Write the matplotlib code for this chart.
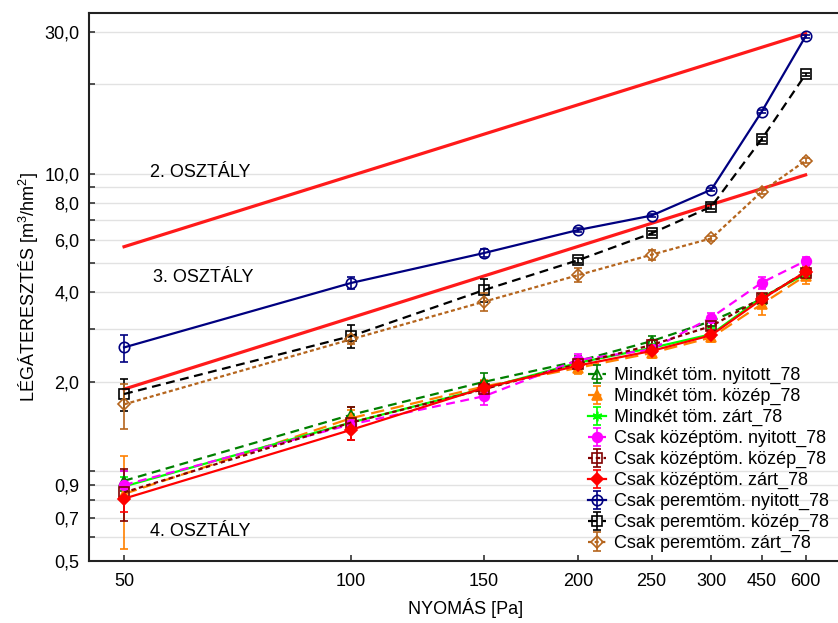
import matplotlib
matplotlib.use("Agg")
import matplotlib.pyplot as plt
import numpy as np
from matplotlib.ticker import FixedLocator, NullFormatter

plt.rcParams['font.family'] = ['Liberation Sans', 'DejaVu Sans']
plt.rcParams['mathtext.default'] = 'regular'

# pressure positions on the (log) axis and their printed labels
x_pos = [50, 100, 150, 200, 250, 300, 350, 400]
x_labels = ['50', '100', '150', '200', '250', '300', '450', '600']

# class boundary lines (start at 50 Pa, end at 600 Pa)
class2_line = [5.69, 29.6]
class3_line = [1.89, 9.92]

series_names = [
    'Mindkét töm. nyitott_78',
    'Mindkét töm. közép_78',
    'Mindkét töm. zárt_78',
    'Csak középtöm. nyitott_78',
    'Csak középtöm. közép_78',
    'Csak középtöm. zárt_78',
    'Csak peremtöm. nyitott_78',
    'Csak peremtöm. közép_78',
    'Csak peremtöm. zárt_78',
]

mindket_nyitott = [0.93, 1.55, 2.00, 2.35, 2.74, 3.20, 3.79, 4.70]
mindket_kozep   = [0.84, 1.51, 1.93, 2.23, 2.50, 2.82, 3.65, 4.55]
mindket_zart    = [0.89, 1.46, 1.90, 2.32, 2.60, 2.89, 3.84, 4.61]
kozep_nyitott   = [0.90, 1.44, 1.79, 2.37, 2.57, 3.29, 4.31, 5.10]
kozep_kozep     = [0.85, 1.46, 1.89, 2.30, 2.66, 3.08, 3.82, 4.66]
kozep_zart      = [0.81, 1.38, 1.91, 2.27, 2.54, 2.87, 3.79, 4.69]
perem_nyitott   = [2.61, 4.30, 5.42, 6.48, 7.24, 8.85, 16.2, 29.0]
perem_kozep     = [1.82, 2.85, 4.07, 5.13, 6.31, 7.76, 13.1, 21.6]
perem_zart      = [1.68, 2.78, 3.72, 4.57, 5.35, 6.07, 8.72, 11.08]

err_mindket_nyitott = [0.07, 0.10, 0.15, 0.10, 0.12, 0.12, 0.10, 0.15]
err_mindket_kozep   = [0.29, 0.10, 0.10, 0.10, 0.10, 0.10, 0.30, 0.30]
err_mindket_zart    = [0.07, 0.08, 0.08, 0.08, 0.08, 0.15, 0.10, 0.10]
err_kozep_nyitott   = [0.10, 0.08, 0.12, 0.12, 0.10, 0.12, 0.20, 0.15]
err_kozep_kozep     = [0.17, 0.18, 0.10, 0.10, 0.10, 0.10, 0.10, 0.12]
err_kozep_zart      = [0.08, 0.10, 0.10, 0.08, 0.08, 0.10, 0.10, 0.10]
err_perem_nyitott   = [0.27, 0.20, 0.15, 0.10, 0.10, 0.10, 0.20, 0.30]
err_perem_kozep     = [0.22, 0.25, 0.35, 0.10, 0.10, 0.15, 0.20, 0.30]
err_perem_zart      = [0.29, 0.10, 0.25, 0.25, 0.20, 0.10, 0.15, 0.20]

values = [mindket_nyitott, mindket_kozep, mindket_zart, kozep_nyitott,
          kozep_kozep, kozep_zart, perem_nyitott, perem_kozep, perem_zart]
errors = [err_mindket_nyitott, err_mindket_kozep, err_mindket_zart,
          err_kozep_nyitott, err_kozep_kozep, err_kozep_zart,
          err_perem_nyitott, err_perem_kozep, err_perem_zart]

styles = [
    dict(color='#008000', ls=(0, (4, 2.5)), marker='^', mfc='none', ms=6.5),
    dict(color='#FF8000', ls=(0, (6, 3)), marker='^', mfc='#FF8000', ms=6.5),
    dict(color='#00FF00', ls='-', marker=(6, 2, 0), mfc='#00FF00', ms=7),
    dict(color='#FF00FF', ls=(0, (4, 2.5)), marker='o', mfc='#FF00FF', ms=7),
    dict(color='#800000', ls=(0, (2, 1.5)), marker='s', mfc='none', ms=7),
    dict(color='#FF0000', ls='-', marker='D', mfc='#FF0000', ms=6.5),
    dict(color='#000080', ls='-', marker='o', mfc='none', ms=7.5),
    dict(color='#000000', ls=(0, (4, 2.5)), marker='s', mfc='none', ms=7),
    dict(color='#B5651D', ls=(0, (1.8, 1.2)), marker='D', mfc='none', ms=6),
]

fig = plt.figure(figsize=(8.38, 6.23), dpi=100)
ax = fig.add_axes([89 / 838, 1 - 561 / 623, (842 - 89) / 838, (561 - 12.7) / 623])
ax.set_xscale('log')
ax.set_yscale('log')

ax.plot([x_pos[0], x_pos[-1]], class2_line, color='#FF1A1A', lw=2.3, zorder=3)
ax.plot([x_pos[0], x_pos[-1]], class3_line, color='#FF1A1A', lw=2.3, zorder=3)

for name, vals, errs, st in zip(series_names, values, errors, styles):
    ax.errorbar(x_pos, vals, yerr=errs, color=st['color'], ls=st['ls'], lw=1.6,
                marker=st['marker'], mfc=st['mfc'], mec=st['color'], mew=1.2,
                ms=st['ms'], capsize=3, elinewidth=1.2, capthick=1.2, label=name,
                zorder=4)

ax.set_xlim(44.93, 447)
ax.set_ylim(0.5, 34.8)

ax.xaxis.set_major_locator(FixedLocator(x_pos))
ax.set_xticklabels(x_labels)
ax.xaxis.set_minor_locator(FixedLocator([]))

y_major = [0.5, 0.7, 0.9, 2, 4, 6, 8, 10, 30]
y_major_labels = ['0,5', '0,7', '0,9', '2,0', '4,0', '6,0', '8,0', '10,0', '30,0']
y_minor = [0.6, 0.8, 1.0, 3, 5, 7, 9, 20]
ax.yaxis.set_major_locator(FixedLocator(y_major))
ax.set_yticklabels(y_major_labels)
ax.yaxis.set_minor_locator(FixedLocator(y_minor))
ax.yaxis.set_minor_formatter(NullFormatter())

ax.grid(True, which='both', axis='y', color='#E2E2E2', lw=1.0, zorder=0)
ax.set_axisbelow(True)
ax.tick_params(axis='both', which='both', direction='in', length=4, width=1.2,
               labelsize=13, color='#333333')
ax.tick_params(axis='x', pad=9)
ax.tick_params(axis='y', pad=7)
for side in ['left', 'bottom', 'top']:
    ax.spines[side].set_linewidth(1.5)
    ax.spines[side].set_color('#222222')
ax.spines['right'].set_visible(False)

ax.text(54.1, 10.1, '2. OSZTÁLY', fontsize=13, ha='left', va='center')
ax.text(54.6, 4.47, '3. OSZTÁLY', fontsize=13, ha='left', va='center')
ax.text(54.1, 0.628, '4. OSZTÁLY', fontsize=13, ha='left', va='center')

ax.set_xlabel('NYOMÁS [Pa]', fontsize=13, labelpad=5.5)
ax.set_ylabel('LÉGÁTERESZTÉS [m$^3$/hm$^2$]', fontsize=13, labelpad=2)

leg = ax.legend(loc='upper left', bbox_to_anchor=((588 - 89) / 753, (561 - 367) / 548.3),
                frameon=False, fontsize=13, handlelength=1.0, handletextpad=0.45,
                labelspacing=0.21, borderpad=0, borderaxespad=0)

fig.savefig('out.png', dpi=100)
